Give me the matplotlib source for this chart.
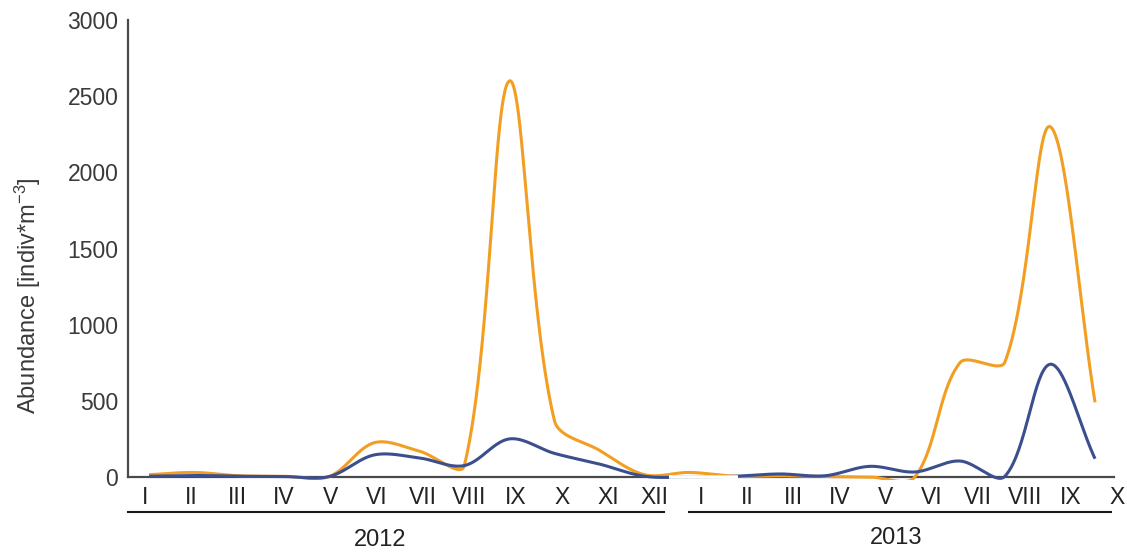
import numpy as np
import matplotlib
matplotlib.use("Agg")
import matplotlib.pyplot as plt
from matplotlib.lines import Line2D
import matplotlib.transforms as mtransforms

plt.rcParams['font.family'] = ['Liberation Sans', 'DejaVu Sans']
plt.rcParams['mathtext.fontset'] = 'custom'
plt.rcParams['mathtext.rm'] = 'Liberation Sans'
plt.rcParams['mathtext.it'] = 'Liberation Sans'

# ---------------- data ----------------
months_2012 = ["I", "II", "III", "IV", "V", "VI", "VII", "VIII", "IX", "X", "XI", "XII"]
months_2013 = ["I", "II", "III", "IV", "V", "VI", "VII", "VIII", "IX", "X"]
years = ["2012", "2013"]

orange_2012 = [15, 30, 8, 5, 3, 225, 170, 75, 2600, 370, 175, 15]
orange_2013 = [30, 5, 8, 3, 0, 0, 750, 755, 2300, 490]
blue_2012 = [5, 10, 5, 3, 3, 145, 125, 75, 250, 155, 85, 5]
blue_2013 = [0, 5, 20, 8, 70, 33, 105, 5, 740, 120]

y_ticks = [0, 500, 1000, 1500, 2000, 2500, 3000]
y_label = r"Abundance [indiv*m$^{\mathregular{-3}}$]"

ORANGE = "#F29E23"
BLUE = "#3B4E8D"

# ---------------- figure ----------------
W_PX, H_PX = 1127, 554
fig = plt.figure(figsize=(W_PX / 100, H_PX / 100), dpi=100)
fig.patch.set_facecolor("white")

sx = 45.05          # px per month
sy = 457.0 / 3000   # px per unit
ax_left, ax_right, ax_top, ax_bot = 128, 1114, 20, 480.2
ax = fig.add_axes([ax_left / W_PX, 1 - ax_bot / H_PX,
                   (ax_right - ax_left) / W_PX, (ax_bot - ax_top) / H_PX])
first_pt = 149
ax.set_xlim((ax_left - first_pt) / sx, (ax_right - first_pt) / sx)
ax.set_ylim(-(ax_bot - 477) / sy, 3000)


def excel_smooth(xs, ys, n=60):
    """Excel-like smoothed line (Bezier with distance-weighted tangents, in pixel space)."""
    P = np.column_stack([np.asarray(xs, float) * sx, np.asarray(ys, float) * sy])
    outx, outy = [], []
    for i in range(len(P) - 1):
        p0 = P[i - 1] if i > 0 else P[i]
        p1, p2 = P[i], P[i + 1]
        p3 = P[i + 2] if i + 2 < len(P) else P[i + 1]
        d01 = np.hypot(*(p1 - p0)); d12 = np.hypot(*(p2 - p1)); d23 = np.hypot(*(p3 - p2))
        f1 = d12 / (d01 + d12) if d01 + d12 > 0 else 0
        f2 = d12 / (d12 + d23) if d12 + d23 > 0 else 0
        b1 = p1 + (p2 - p0) * f1 / 3
        b2 = p2 - (p3 - p1) * f2 / 3
        t = np.linspace(0, 1, n)[:, None]
        B = (1 - t) ** 3 * p1 + 3 * (1 - t) ** 2 * t * b1 + 3 * (1 - t) * t ** 2 * b2 + t ** 3 * p2
        if i > 0:
            B = B[1:]
        outx.append(B[:, 0] / sx); outy.append(B[:, 1] / sy)
    return np.concatenate(outx), np.concatenate(outy)


orange = orange_2012 + orange_2013
blue = blue_2012 + blue_2013
idx = np.arange(len(orange))

ox, oy = excel_smooth(idx, orange)
bx, by = excel_smooth(idx, blue)
ax.plot(ox, oy, color=ORANGE, lw=2.2, solid_capstyle="butt", zorder=3)
ax.plot(bx, by, color=BLUE, lw=2.2, solid_capstyle="butt", zorder=4)

# white separator between the years (covers axis and blue line)
gap_x = [(669 - first_pt) / sx, (738 - first_pt) / sx]
ax.plot(gap_x, [0, 0], color="white", lw=2.6, zorder=5, clip_on=False, solid_capstyle="butt")

# spines
for s in ["top", "right"]:
    ax.spines[s].set_visible(False)
ax.spines["left"].set_bounds(0, 3000)
ax.spines["bottom"].set_position(("data", 0))
for s in ["left", "bottom"]:
    ax.spines[s].set_color("#4a4a4a")
    ax.spines[s].set_linewidth(1.6)
    ax.spines[s].set_zorder(2.5)

ax.set_yticks(y_ticks)
ax.set_yticklabels([str(v) for v in y_ticks])
ax.tick_params(axis="y", length=0, pad=7, labelsize=16.5, labelcolor="#3a3a3a")
ax.set_xticks([])

# month labels
trans = mtransforms.blended_transform_factory(ax.transData, fig.transFigure)
all_months = months_2012 + months_2013
lab0 = (145 - first_pt) / sx
lab_step = 46.3 / sx
for i, m in enumerate(all_months):
    ax.text(lab0 + i * lab_step, 1 - 497 / H_PX, m, transform=trans, ha="center", va="center",
            fontsize=16.5, color="#222222", clip_on=False)

# year underlines and labels
fig.add_artist(Line2D([128 / W_PX, 664 / W_PX], [1 - 512 / H_PX] * 2, transform=fig.transFigure,
                      color="#1a1a1a", lw=1.5))
fig.add_artist(Line2D([689 / W_PX, 1111 / W_PX], [1 - 512 / H_PX] * 2, transform=fig.transFigure,
                      color="#1a1a1a", lw=1.5))
fig.text(380 / W_PX, 1 - 540 / H_PX, years[0], ha="center", va="center", fontsize=17, color="#222222")
fig.text(896 / W_PX, 1 - 538 / H_PX, years[1], ha="center", va="center", fontsize=17, color="#222222")

fig.text(28 / W_PX, 1 - 296 / H_PX, y_label, rotation=90, ha="center", va="center",
         fontsize=17, color="#3a3a3a")

fig.savefig("out.png", dpi=100, facecolor="white")
